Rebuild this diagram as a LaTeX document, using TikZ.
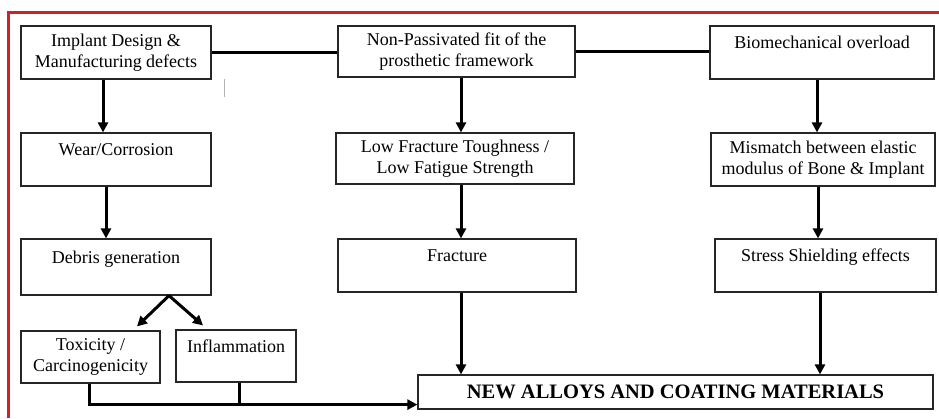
\documentclass[tikz,border=0pt]{standalone}
\usepackage{fontspec}
\setmainfont{Liberation Serif}
\usetikzlibrary{arrows.meta}
\definecolor{frame}{RGB}{205,35,40}
\newcommand\myTopGap{\rule{0pt}{19pt}}
\begin{document}
\begin{tikzpicture}[x=1pt,y=-1pt,
 box/.style={draw=black!85, line width=1.2pt, inner sep=0pt, align=center, font=\fontsize{18}{20.5}\selectfont},
 conn/.style={line width=3pt, -{Triangle[length=10pt,width=10pt]}},
 link/.style={line width=3pt}]
\useasboundingbox (0,0) rectangle (939,418);
\fill[white] (0,0) rectangle (939,418);
\draw[frame, line width=3pt] (8,418) -- (8,12) -- (939,12);
% row 1
\node[box, minimum width=190pt, minimum height=53pt] (A) at (116,52.5) {Implant Design \&\\Manufacturing defects};
\node[box, minimum width=237pt, minimum height=51pt] (B) at (456.5,51.5) {Non-Passivated fit of the\\prosthetic framework};
\node[box, minimum width=224pt, minimum height=53pt] (C) at (822,52.5) {\myTopGap Biomechanical overload\\\strut};
% row 2
\node[box, minimum width=190pt, minimum height=53pt] (D) at (116,159.5) {\myTopGap Wear/Corrosion\\\strut};
\node[box, minimum width=238pt, minimum height=51pt] (E) at (455,158.5) {Low Fracture Toughness /\\Low Fatigue Strength};
\node[box, minimum width=224pt, minimum height=53pt] (F) at (823,159.5) {Mismatch between elastic\\modulus of Bone \& Implant};
% row 3
\node[box, minimum width=190pt, minimum height=56pt] (G) at (116,267) {\myTopGap Debris generation\\\strut};
\node[box, minimum width=238pt, minimum height=53pt] (H) at (457,265.5) {\myTopGap Fracture\\\strut};
\node[box, minimum width=221pt, minimum height=53pt] (I) at (825.5,265.5) {\myTopGap Stress Shielding effects\\\strut};
% row 4
\node[box, minimum width=139pt, minimum height=52pt] (J) at (90.5,357) {Toxicity /\\Carcinogenicity};
\node[box, minimum width=120pt, minimum height=52pt] (K) at (236,356) {\myTopGap Inflammation\\\strut};
\node[box, minimum width=515pt, minimum height=34pt, font=\fontsize{20.5}{24}\selectfont\bfseries] (L) at (675.5,392) {NEW ALLOYS AND COATING MATERIALS};
% horizontal links
\draw[link] (A.east) -- (A.east -| B.west);
\draw[link] (B.east) -- (B.east -| C.west);
% vertical arrows
\draw[conn] ([xshift=-13pt]A.south) -- ([xshift=-13pt]A.south |- D.north);
\draw[conn] ([xshift=-10pt]D.south) -- ([xshift=-10pt]D.south |- G.north);
\draw[conn] ([xshift=4.5pt]B.south) -- ([xshift=4.5pt]B.south |- E.north);
\draw[conn] ([xshift=6pt]E.south) -- ([xshift=6pt]E.south |- H.north);
\draw[conn] ([xshift=4pt]H.south) -- ([xshift=4pt]H.south |- L.north);
\draw[conn] ([xshift=-5pt]C.south) -- ([xshift=-5pt]C.south |- F.north);
\draw[conn] ([xshift=-5pt]F.south) -- ([xshift=-5pt]F.south |- I.north);
\draw[conn] ([xshift=-5.5pt]I.south) -- ([xshift=-5.5pt]I.south |- L.north);
% fork from debris
\coordinate (fork) at ([xshift=53pt]G.south);
\coordinate (tj) at ([xshift=46.5pt,yshift=4pt]J.north);
\coordinate (tk) at ([xshift=-33pt,yshift=4pt]K.north);
\draw[conn] (fork) -- (tj);
\draw[conn] (fork) -- (tk);
% bottom collector
\coordinate (bend) at ([xshift=-1.5pt,yshift=-21pt]J.south);
\draw[conn] ([xshift=-1.5pt]J.south) -- (bend) -- (bend -| L.west);
\draw[link] ([xshift=3pt]K.south) -- ([xshift=3pt]K.south |- bend);
% faint mark
\coordinate (m1) at (224,79);
\coordinate (m2) at (224,97);
\draw[black!30, line width=0.8pt] (m1) -- (m2);
\end{tikzpicture}
\end{document}
